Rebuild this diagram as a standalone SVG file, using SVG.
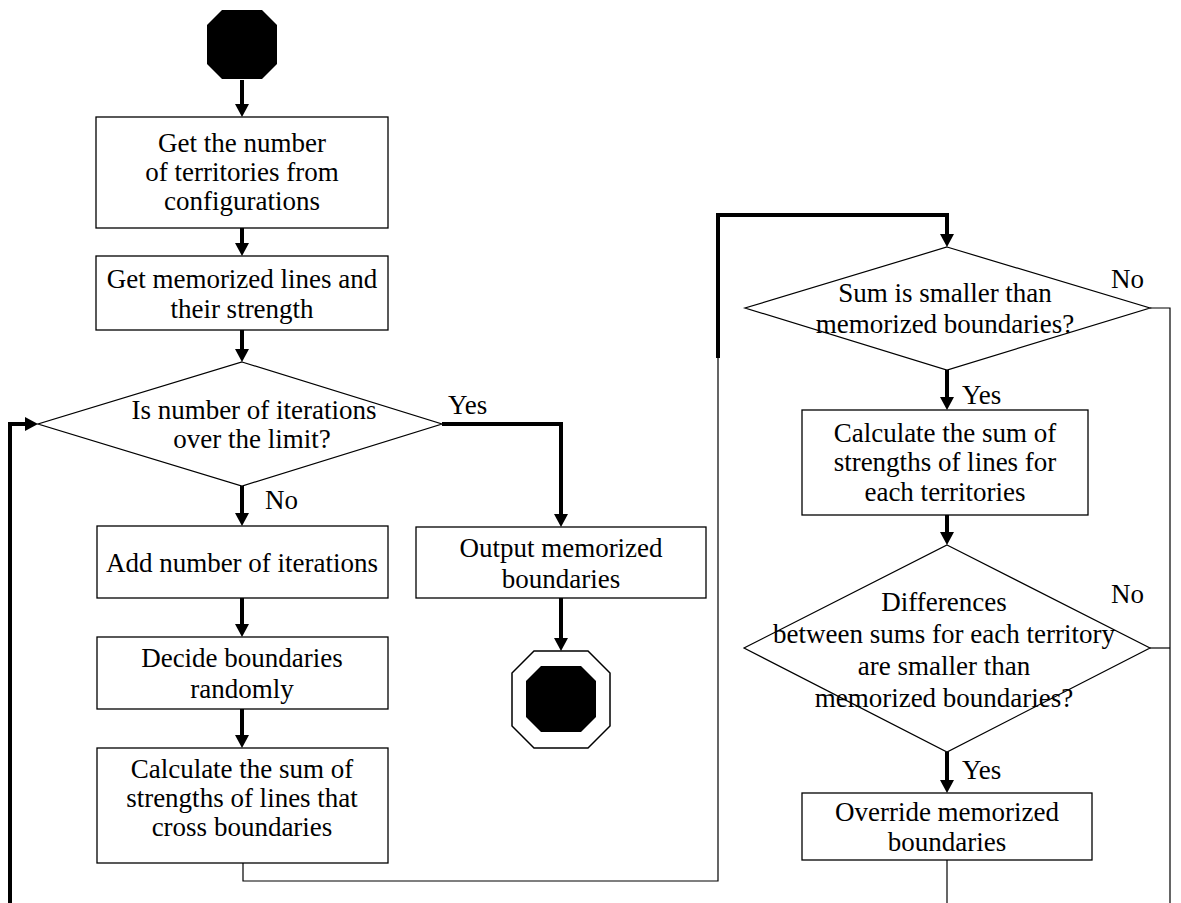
<svg xmlns="http://www.w3.org/2000/svg" width="1181" height="903" viewBox="0 0 1181 903">
<style>
.box{fill:#fff;stroke:#000;stroke-width:1.3}
.dia{fill:#fff;stroke:#000;stroke-width:1.2}
.t{font-family:'Liberation Serif','DejaVu Serif',serif;font-size:27px;fill:#000;text-anchor:middle}
.lbl{font-family:'Liberation Serif','DejaVu Serif',serif;font-size:27px;fill:#000}
.thick{fill:none;stroke:#000;stroke-width:4}
.thin{fill:none;stroke:#000;stroke-width:1.2}
</style>
<defs>
<marker id="ah" viewBox="0 0 14 14" refX="0" refY="7" markerWidth="14" markerHeight="14" markerUnits="userSpaceOnUse" orient="auto">
<path d="M0,0 L13,7 L0,14 z" fill="#000"/>
</marker>
</defs>
<rect width="1181" height="903" fill="#fff"/>

<g id="connectors">
<path class="thick" d="M242,80 V104" marker-end="url(#ah)"/>
<path class="thick" d="M242,228 V243" marker-end="url(#ah)"/>
<path class="thick" d="M242,330 V349" marker-end="url(#ah)"/>
<path class="thick" d="M10,903 V424 H25" marker-end="url(#ah)"/>
<path class="thick" d="M442,424 H561 V514" marker-end="url(#ah)"/>
<path class="thick" d="M242,486 V513" marker-end="url(#ah)"/>
<path class="thick" d="M561,598 V638" marker-end="url(#ah)"/>
<path class="thick" d="M242,598 V624" marker-end="url(#ah)"/>
<path class="thick" d="M242,709 V735" marker-end="url(#ah)"/>
<path class="thin" d="M243,863 V881 H718 V358"/>
<path class="thick" d="M718,358 V215 H947 V234" marker-end="url(#ah)"/>
<path class="thick" d="M947,370 V397" marker-end="url(#ah)"/>
<path class="thick" d="M947,515 V532" marker-end="url(#ah)"/>
<path class="thick" d="M947,752 V780" marker-end="url(#ah)"/>
<path class="thin" d="M1150,308 H1170 V903"/>
<path class="thin" d="M1150,648 H1170"/>
<path class="thin" d="M947,860 V903"/>
<text class="lbl" x="448" y="414">Yes</text>
<text class="lbl" x="265" y="509">No</text>
<text class="lbl" x="1111" y="288">No</text>
<text class="lbl" x="962" y="404">Yes</text>
<text class="lbl" x="1111" y="603">No</text>
<text class="lbl" x="962" y="779">Yes</text>
</g>

<g id="start">
<polygon points="222,10 262,10 277,25 277,64 262,79 222,79 207,64 207,25" fill="#000"/>
</g>

<g id="n1">
<rect class="box" x="96" y="117" width="292" height="111"/>
<text class="t" x="242" y="152">Get the number</text>
<text class="t" x="242" y="181">of territories from</text>
<text class="t" x="242" y="210">configurations</text>
</g>

<g id="n2">
<rect class="box" x="96" y="256" width="292" height="74"/>
<text class="t" x="242" y="288">Get memorized lines and</text>
<text class="t" x="242" y="318">their strength</text>
</g>

<g id="d1">
<polygon class="dia" points="242,362 442,424 242,486 38,424"/>
<text class="t" x="254" y="419">Is number of iterations</text>
<text class="t" x="252" y="448">over the limit?</text>
</g>

<g id="n3">
<rect class="box" x="97" y="526" width="291" height="72"/>
<text class="t" x="242" y="572">Add number of iterations</text>
</g>

<g id="n4">
<rect class="box" x="416" y="527" width="290" height="71"/>
<text class="t" x="561" y="557">Output memorized</text>
<text class="t" x="561" y="588">boundaries</text>
</g>

<g id="end">
<polygon points="534,651 588,651 610,673 610,726 588,748 534,748 512,726 512,673" fill="#fff" stroke="#000" stroke-width="1.5"/>
<polygon points="541,666 581,666 596,681 596,717 581,732 541,732 526,717 526,681" fill="#000"/>
</g>

<g id="n5">
<rect class="box" x="97" y="637" width="291" height="72"/>
<text class="t" x="242" y="667">Decide boundaries</text>
<text class="t" x="242" y="698">randomly</text>
</g>

<g id="n6">
<rect class="box" x="97" y="748" width="291" height="115"/>
<text class="t" x="242" y="778">Calculate the sum of</text>
<text class="t" x="242" y="807">strengths of lines that</text>
<text class="t" x="242" y="836">cross boundaries</text>
</g>

<g id="d2">
<polygon class="dia" points="947,247 1150,308 947,370 745,308"/>
<text class="t" x="945" y="302">Sum is smaller than</text>
<text class="t" x="945" y="333">memorized boundaries?</text>
</g>

<g id="n7">
<rect class="box" x="802" y="410" width="286" height="105"/>
<text class="t" x="945" y="442">Calculate the sum of</text>
<text class="t" x="945" y="471">strengths of lines for</text>
<text class="t" x="945" y="501">each territories</text>
</g>

<g id="d3">
<polygon class="dia" points="947,545 1150,648 947,752 744,648"/>
<text class="t" x="944" y="611">Differences</text>
<text class="t" x="944" y="643">between sums for each territory</text>
<text class="t" x="944" y="675">are smaller than</text>
<text class="t" x="944" y="707">memorized boundaries?</text>
</g>

<g id="n8">
<rect class="box" x="802" y="793" width="290" height="67"/>
<text class="t" x="947" y="821">Override memorized</text>
<text class="t" x="947" y="851">boundaries</text>
</g>
</svg>
